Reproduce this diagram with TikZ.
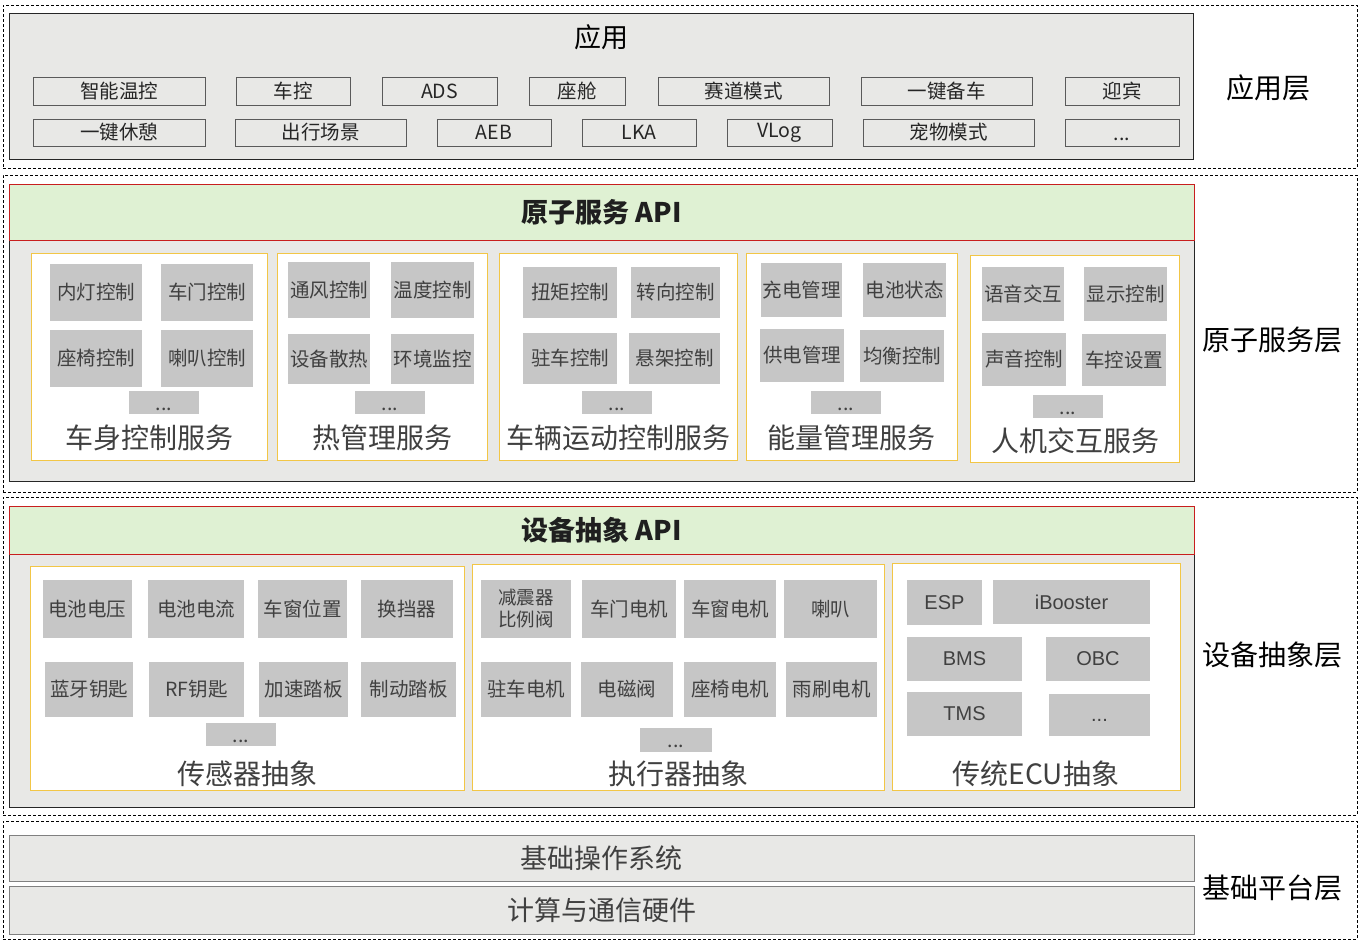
\documentclass[tikz,border=0pt]{standalone}
\usepackage{fontspec}
\setmainfont{Noto Sans CJK SC}
\newfontfamily\arialf{Liberation Sans}
\definecolor{cgray}{RGB}{232,232,230}
\definecolor{igray}{RGB}{198,198,198}
\definecolor{tgray}{RGB}{64,64,64}
\definecolor{bgreen}{RGB}{223,241,211}
\definecolor{bred}{RGB}{200,30,30}
\definecolor{gyel}{RGB}{242,198,70}
\definecolor{agray}{RGB}{90,90,90}
\newcommand\mybox[7]{\node[#6, minimum width={(#4-#2)*1pt}, minimum height={(#5-#3)*1pt}, anchor=north west] (#1) at (#2,#3) {#7};}
\newcommand\mydots{\vphantom{电}...}
\begin{document}
\begin{tikzpicture}[x=1pt,y=-1pt,
  every node/.style={inner sep=0pt, outer sep=0pt},
  layer/.style={draw=black, dash pattern=on 3pt off 2pt, line width=0.8pt},
  cont/.style={draw=black!85, fill=cgray, line width=1pt},
  appitem/.style={draw=agray, fill=cgray, line width=1pt, font=\fontsize{19.5}{21}\selectfont, text=black!85},
  banner/.style={draw=bred, fill=bgreen, line width=1pt, font=\fontsize{27}{29}\selectfont\bfseries, text=black!88},
  grp/.style={draw=gyel, fill=white, line width=1pt},
  item/.style={fill=igray, font=\fontsize{19.5}{22}\selectfont, text=tgray, align=center},
  litem/.style={fill=igray, font=\arialf\fontsize{20}{22}\selectfont, text=tgray, align=center},
  glabel/.style={font=\fontsize{28}{30}\selectfont, text=tgray},
  llabel/.style={font=\fontsize{28}{30}\selectfont, text=black},
  basebox/.style={draw=black!50, fill=cgray, line width=1pt, font=\fontsize{27}{29}\selectfont, text=tgray}]
\useasboundingbox (0,0) rectangle (1361,943);
% layer frames
\mybox{Lapp}{3}{5}{1357}{168}{layer}{}
\mybox{Latom}{3}{175}{1357}{492}{layer}{}
\mybox{Ldev}{3}{497}{1357}{815}{layer}{}
\mybox{Lbase}{3}{821}{1357}{939}{layer}{}
% ---------- application layer
\mybox{appc}{9}{13}{1193}{159}{cont}{}
\node[font=\fontsize{27}{29}\selectfont, text=black] (apptitle) at (601,37) {应用};
\mybox{a1}{33}{77}{205}{105}{appitem}{智能温控}
\mybox{a2}{236}{77}{350}{105}{appitem}{车控}
\mybox{a3}{382}{77}{497}{105}{appitem}{ADS}
\mybox{a4}{529}{77}{625}{105}{appitem}{座舱}
\mybox{a5}{658}{77}{829}{105}{appitem}{赛道模式}
\mybox{a6}{861}{77}{1032}{105}{appitem}{一键备车}
\mybox{a7}{1065}{77}{1179}{105}{appitem}{迎宾}
\mybox{b1}{33}{119}{205}{146}{appitem}{一键休憩}
\mybox{b2}{235}{119}{406}{146}{appitem}{出行场景}
\mybox{b3}{437}{119}{551}{146}{appitem}{AEB}
\mybox{b4}{582}{119}{696}{146}{appitem}{LKA}
\mybox{b5}{727}{119}{832}{146}{appitem}{VLog}
\mybox{b6}{863}{119}{1034}{146}{appitem}{宠物模式}
\mybox{b7}{1065}{119}{1179}{146}{appitem}{\mydots}
\node[llabel] (applbl) at (1268,88) {应用层};
% ---------- atomic service layer
\mybox{atc}{9}{240}{1194}{481}{cont}{}
\mybox{atapi}{9}{184}{1194}{240}{banner}{原子服务 API}
% group 1
\mybox{g1}{31}{253}{267}{460}{grp}{}
\mybox{g1a}{50}{264}{142}{321}{item}{内灯控制}
\mybox{g1b}{161}{264}{253}{321}{item}{车门控制}
\mybox{g1c}{50}{330}{142}{387}{item}{座椅控制}
\mybox{g1d}{161}{330}{253}{387}{item}{喇叭控制}
\mybox{g1e}{129}{391}{199}{414}{item}{\mydots}
\node[glabel] (g1l) at (149,438) {车身控制服务};
% group 2
\mybox{g2}{277}{253}{487}{460}{grp}{}
\mybox{g2a}{288}{262}{370}{318}{item}{通风控制}
\mybox{g2b}{391}{262}{474}{318}{item}{温度控制}
\mybox{g2c}{288}{334}{370}{384}{item}{设备散热}
\mybox{g2d}{391}{334}{474}{384}{item}{环境监控}
\mybox{g2e}{355}{391}{425}{414}{item}{\mydots}
\node[glabel] (g2l) at (382,438) {热管理服务};
% group 3
\mybox{g3}{499}{253}{737}{460}{grp}{}
\mybox{g3a}{523}{267}{617}{318}{item}{扭矩控制}
\mybox{g3b}{631}{267}{720}{318}{item}{转向控制}
\mybox{g3c}{523}{333}{617}{384}{item}{驻车控制}
\mybox{g3d}{629}{333}{720}{384}{item}{悬架控制}
\mybox{g3e}{582}{391}{652}{414}{item}{\mydots}
\node[glabel] (g3l) at (618,438) {车辆运动控制服务};
% group 4
\mybox{g4}{746}{253}{957}{460}{grp}{}
\mybox{g4a}{761}{263}{842}{317}{item}{充电管理}
\mybox{g4b}{863}{263}{946}{317}{item}{电池状态}
\mybox{g4c}{760}{329}{844}{382}{item}{供电管理}
\mybox{g4d}{860}{330}{944}{382}{item}{均衡控制}
\mybox{g4e}{811}{391}{881}{414}{item}{\mydots}
\node[glabel] (g4l) at (851,438) {能量管理服务};
% group 5
\mybox{g5}{970}{255}{1179}{462}{grp}{}
\mybox{g5a}{982}{267}{1064}{321}{item}{语音交互}
\mybox{g5b}{1084}{267}{1167}{321}{item}{显示控制}
\mybox{g5c}{982}{333}{1066}{386}{item}{声音控制}
\mybox{g5d}{1082}{334}{1166}{386}{item}{车控设置}
\mybox{g5e}{1033}{395}{1103}{418}{item}{\mydots}
\node[glabel] (g5l) at (1075,441) {人机交互服务};
\node[llabel] (atlbl) at (1272,340) {原子服务层};
% ---------- device abstraction layer
\mybox{dvc}{9}{554}{1194}{807}{cont}{}
\mybox{dvapi}{9}{506}{1194}{554}{banner}{设备抽象 API}
% sensors
\mybox{s0}{30}{566}{464}{790}{grp}{}
\mybox{s1}{43}{580}{132}{638}{item}{电池电压}
\mybox{s2}{148}{580}{244}{638}{item}{电池电流}
\mybox{s3}{258}{580}{347}{638}{item}{车窗位置}
\mybox{s4}{361}{580}{453}{638}{item}{换挡器}
\mybox{s5}{45}{662}{133}{717}{item}{蓝牙钥匙}
\mybox{s6}{149}{662}{244}{717}{item}{RF钥匙}
\mybox{s7}{259}{662}{348}{717}{item}{加速踏板}
\mybox{s8}{361}{662}{456}{717}{item}{制动踏板}
\mybox{s9}{206}{723}{276}{746}{item}{\mydots}
\node[glabel] (s0l) at (247,774) {传感器抽象};
% actuators
\mybox{e0}{472}{564}{884}{790}{grp}{}
\mybox{e1}{481}{580}{571}{638}{item, font=\fontsize{18.5}{22}\selectfont}{减震器\\比例阀}
\mybox{e2}{582}{580}{676}{638}{item}{车门电机}
\mybox{e3}{684}{580}{776}{638}{item}{车窗电机}
\mybox{e4}{784}{580}{877}{638}{item}{喇叭}
\mybox{e5}{481}{662}{571}{717}{item}{驻车电机}
\mybox{e6}{581}{662}{673}{717}{item}{电磁阀}
\mybox{e7}{684}{662}{776}{717}{item}{座椅电机}
\mybox{e8}{786}{662}{877}{717}{item}{雨刷电机}
\mybox{e9}{640}{728}{712}{752}{item}{\mydots}
\node[glabel] (e0l) at (678,774) {执行器抽象};
% ECU
\mybox{c0}{892}{563}{1180}{790}{grp}{}
\mybox{c1}{907}{580}{982}{625}{litem}{ESP}
\mybox{c2}{993}{580}{1150}{624}{litem}{iBooster}
\mybox{c3}{907}{637}{1022}{681}{litem}{BMS}
\mybox{c4}{1046}{637}{1150}{681}{litem}{OBC}
\mybox{c5}{907}{692}{1022}{736}{litem}{TMS}
\mybox{c6}{1049}{694}{1150}{736}{litem}{\vphantom{B}...}
\node[glabel] (c0l) at (1036,774) {传统ECU抽象};
\node[llabel] (dvlbl) at (1272,655) {设备抽象层};
% ---------- base layer
\mybox{os}{9}{835}{1194}{881}{basebox}{基础操作系统}
\mybox{hw}{9}{886}{1194}{934}{basebox}{计算与通信硬件}
\node[llabel] (bslbl) at (1272,888) {基础平台层};
\end{tikzpicture}
\end{document}
